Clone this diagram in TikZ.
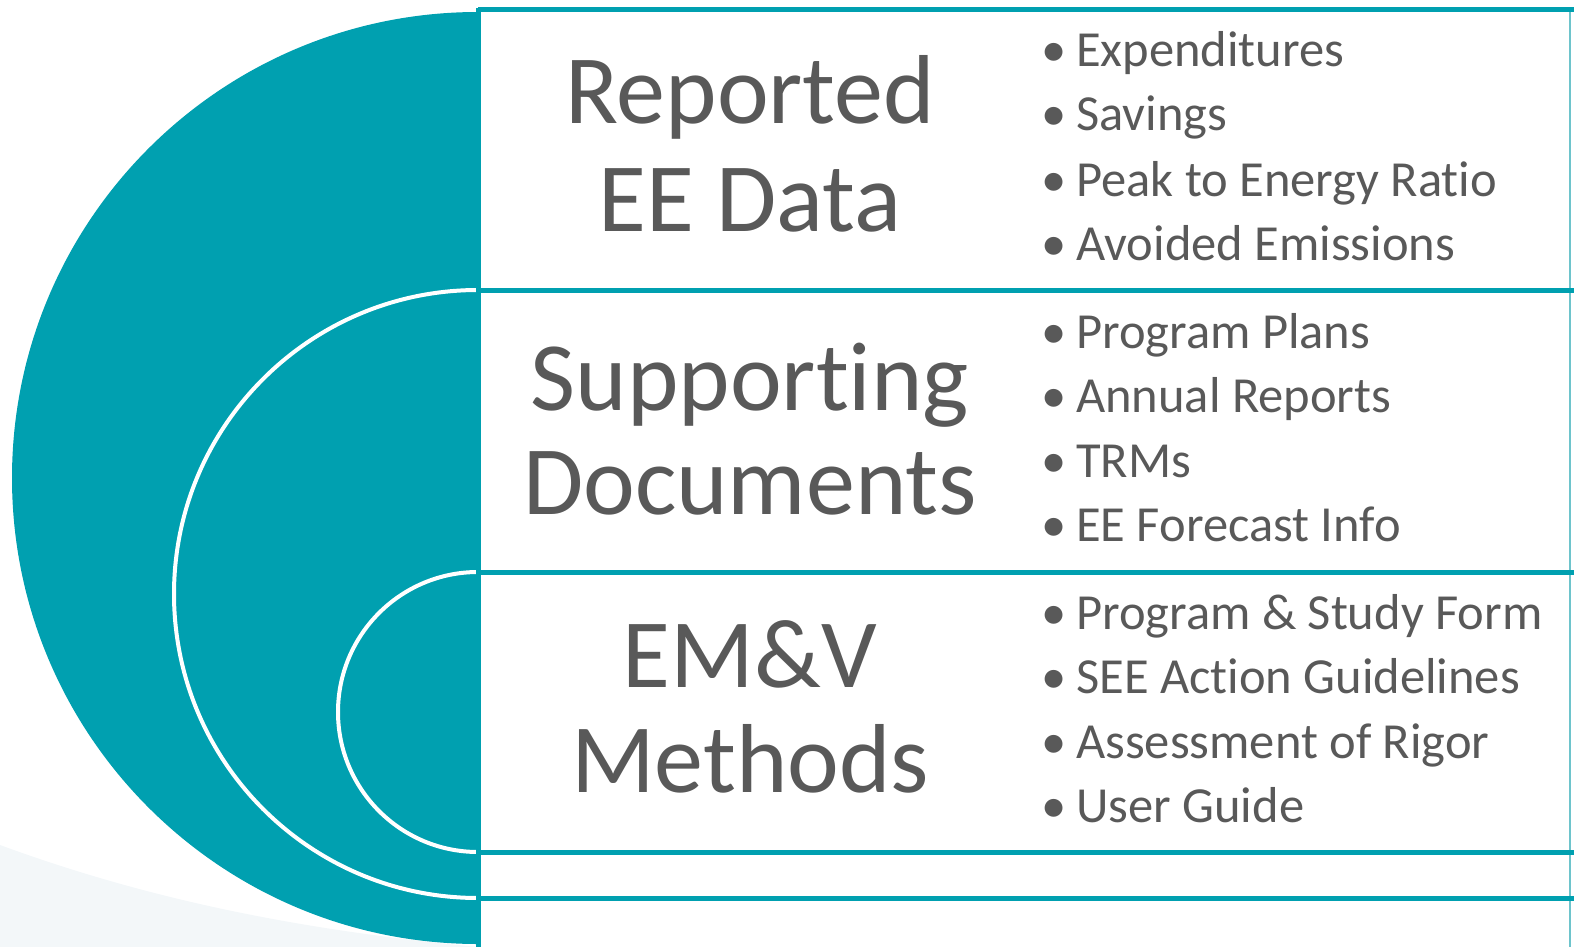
\documentclass[tikz,border=0pt]{standalone}
\usepackage{fontspec}
\setmainfont[Ligatures=NoCommon]{Carlito}
\definecolor{tealc}{RGB}{0,160,176}
\definecolor{lteal}{RGB}{110,196,204}
\definecolor{txt}{RGB}{89,89,89}
\definecolor{glow}{RGB}{243,247,249}
\tikzset{
  title/.style={anchor=base, inner sep=0pt, text=txt, font=\fontsize{98}{104}\selectfont},
  item/.style={anchor=base west, inner sep=0pt, text=txt, font=\fontsize{50.5}{54}\selectfont},
  rule/.style={draw=tealc, line width=5pt},
  ring/.style={draw=white, line width=4pt}
}
\newcommand{\bul}[1]{\makebox[36pt][l]{\hspace*{1.5pt}•}#1}
\begin{document}
\begin{tikzpicture}[x=1pt,y=-1pt]
\useasboundingbox (0,0) rectangle (1574,947);
% faint glow bottom-left
\fill[glow] (0,845) .. controls (150,900) and (300,930) .. (478,947) -- (0,947) -- cycle;
% teal half disc and white rings
\begin{scope}
  \clip (0,0) rectangle (478,947);
  \fill[tealc] (478,478) circle[radius=466pt];
  \draw[ring] (478,594) circle[radius=304pt];
  \draw[ring] (478,712) circle[radius=140pt];
\end{scope}
% box rules
\draw[draw=lteal, line width=2pt] (1570,10) -- (1570,947);
\draw[rule] (478,10) -- (1574,10);
\draw[rule] (478,290) -- (1574,290);
\draw[rule] (478,572) -- (1574,572);
\draw[rule] (478,852) -- (1574,852);
\draw[rule] (478,898) -- (1574,898);
\draw[rule] (478,8) -- (478,947);
% titles
\node[title] (t1a) at (750,124) {Reported};
\node[title] (t1b) at (750,231) {EE Data};
\node[title] (t2a) at (750,410) {Supporting};
\node[title] (t2b) at (750,514) {Documents};
\node[title] (t3a) at (750,687) {EM\&V};
\node[title] (t3b) at (750,792) {Methods};
% bullets
\node[item] (b11) at (1040,67) {\bul{Expenditures}};
\node[item] (b12) at (1040,131) {\bul{Savings}};
\node[item] (b13) at (1040,196) {\bul{Peak to Energy Ratio}};
\node[item] (b14) at (1040,260) {\bul{Avoided Emissions}};
\node[item] (b21) at (1040,348) {\bul{Program Plans}};
\node[item] (b22) at (1040,412) {\bul{Annual Reports}};
\node[item] (b23) at (1040,477) {\bul{TRMs}};
\node[item] (b24) at (1040,541) {\bul{EE Forecast Info}};
\node[item] (b31) at (1040,629) {\bul{Program \& Study Form}};
\node[item] (b32) at (1040,693) {\bul{SEE Action Guidelines}};
\node[item] (b33) at (1040,758) {\bul{Assessment of Rigor}};
\node[item] (b34) at (1040,822) {\bul{User Guide}};
\end{tikzpicture}
\end{document}
